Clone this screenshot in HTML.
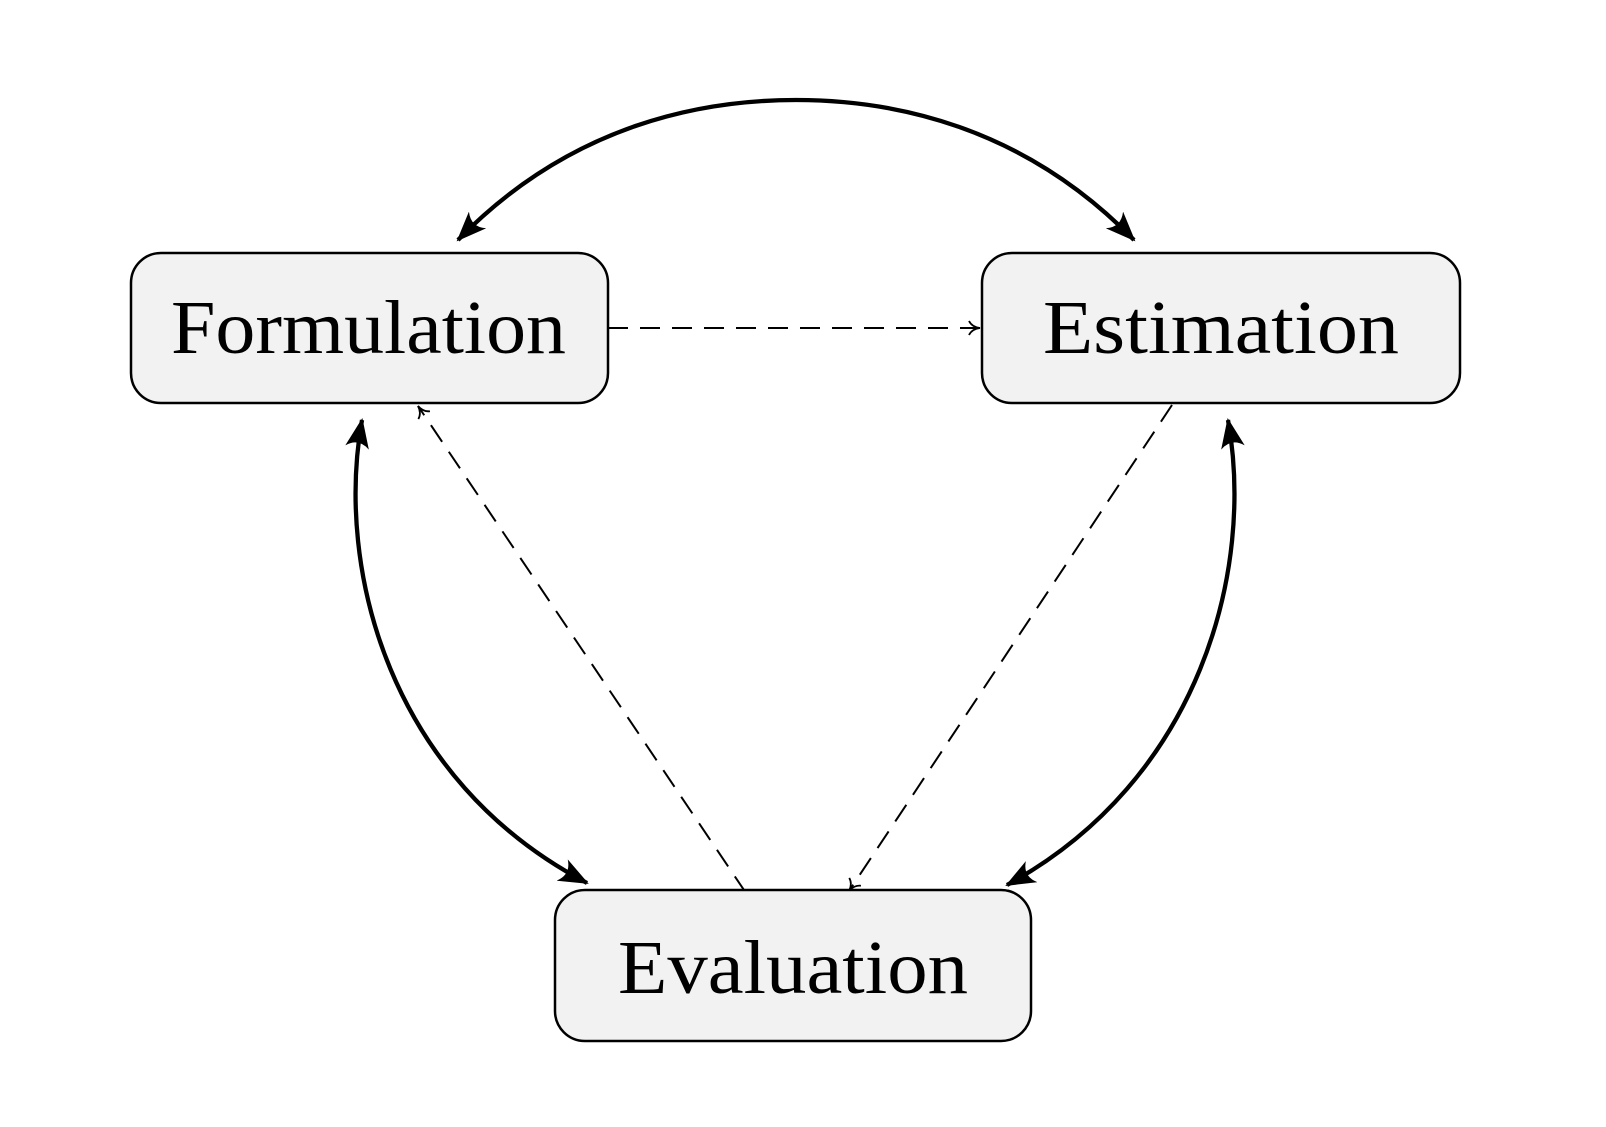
<!DOCTYPE html>
<html><head><meta charset="utf-8"><style>html,body{margin:0;padding:0;background:#fff}svg{display:block}</style></head>
<body>
<svg width="1606" height="1127" viewBox="0 0 1606 1127" xmlns="http://www.w3.org/2000/svg">
<defs>
<marker id="st" viewBox="0 0 30 24" refX="28" refY="12" markerWidth="30" markerHeight="24" markerUnits="userSpaceOnUse" orient="auto-start-reverse">
<path d="M0,0 Q10,12 0,24 L30,12 Z" fill="#000"/>
</marker>
<marker id="op" viewBox="0 0 14 16" refX="12" refY="8" markerWidth="14" markerHeight="16" markerUnits="userSpaceOnUse" orient="auto">
<path d="M1,1 Q4,7 12,8 Q4,9 1,15" fill="none" stroke="#000" stroke-width="1.8"/>
</marker>
</defs>
<g fill="none" stroke="#000" stroke-width="4.3">
<path d="M458,240 C570,125 700,100 796,100 C892,100 1022,125 1134,240" marker-start="url(#st)" marker-end="url(#st)"/>
<path d="M362,420 C335,570 390,780 587,883" marker-start="url(#st)" marker-end="url(#st)"/>
<path d="M1228,420 C1255,570 1200,780 1007,885" marker-start="url(#st)" marker-end="url(#st)"/>
</g>
<g fill="none" stroke="#000" stroke-width="2" stroke-dasharray="20,12">
<path d="M608,328 L980,328" marker-end="url(#op)"/>
<path d="M746,893 L418,406" marker-end="url(#op)"/>
<path d="M1172,405 L849,891" marker-end="url(#op)"/>
</g>
<g fill="#f2f2f2" stroke="#000" stroke-width="2.5">
<rect x="131" y="253" width="477" height="150" rx="30"/>
<rect x="982" y="253" width="478" height="150" rx="30"/>
<rect x="555" y="890" width="476" height="151" rx="30"/>
</g>
<g font-family="'Liberation Serif', serif" font-size="76" fill="#000">
<text x="171" y="353" textLength="395" lengthAdjust="spacingAndGlyphs">Formulation</text>
<text x="1043" y="353" textLength="356" lengthAdjust="spacingAndGlyphs">Estimation</text>
<text x="618" y="993" textLength="350" lengthAdjust="spacingAndGlyphs">Evaluation</text>
</g>
</svg>
</body></html>
